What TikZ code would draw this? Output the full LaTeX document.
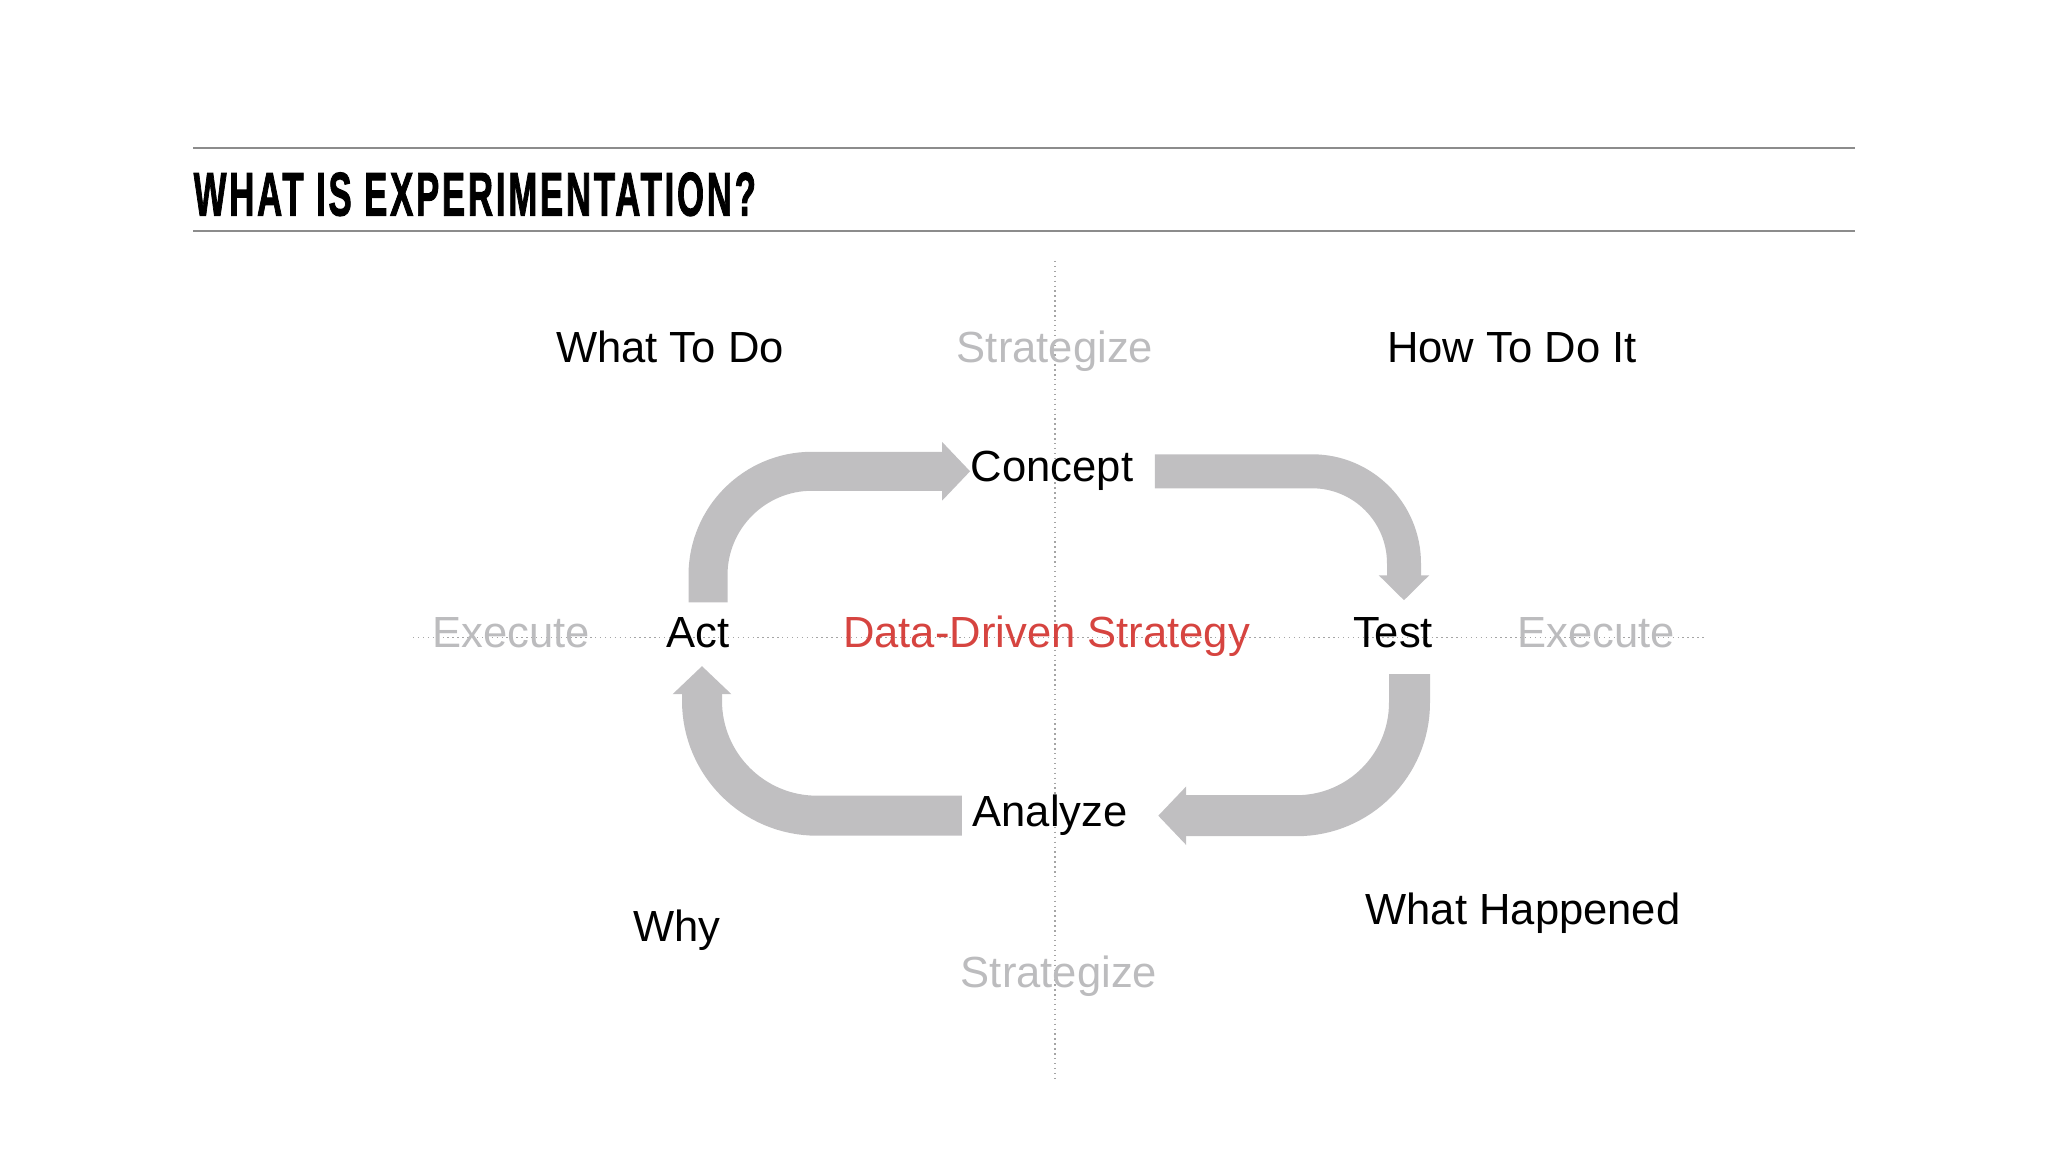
\documentclass[tikz,border=0pt]{standalone}
\usepackage{fontspec}
\setmainfont{Liberation Sans}
\newfontfamily\headfont[FakeBold=2, LetterSpace=8]{Liberation Sans}
\usepackage{xcolor}
\usepackage{tikz}
\usetikzlibrary{
    arrows.meta,
    calc
}
\definecolor{arrowgray}{RGB}{192,191,193}
\definecolor{fadegray}{RGB}{188,188,190}
\definecolor{ddsred}{RGB}{214,68,64}
\definecolor{rulegray}{RGB}{140,140,140}
\definecolor{axisgray}{RGB}{165,165,165}
\tikzset{
  word/.style = {
      anchor=base,
      inner sep=0pt,
      font=\fontsize{12.4}{14}\selectfont,
      text=black
  },
  faded/.style = {
      word,
      text=fadegray
  },
  hilite/.style = {
      word,
      text=ddsred
  },
  heading/.style = {
      anchor=base west,
      inner sep=0pt,
      font=\fontsize{17.5}{20}\selectfont\headfont\bfseries
  },
  rule/.style = {
      draw=rulegray,
      line width=0.6pt
  },
  axis/.style = {
      draw=axisgray,
      line width=0.4pt,
      densely dotted
  },
  flow/.style = {
      draw=arrowgray,
      line width=#1,
      -{Triangle[length=2.8mm, width=5.7mm]}
  }
}

\begin{document}
\begin{tikzpicture}
    \useasboundingbox (0,0) rectangle (20.48,11.5);
    % Heading
    \draw[rule] (1.93,10.02) -- (18.55,10.02);
    \draw[rule] (1.93,9.19) -- (18.55,9.19);
    \node[heading] (title) at (1.93,9.345) {\scalebox{0.565}[1]{WHAT IS EXPERIMENTATION?}};
    % Axes
    \draw[axis] (10.55,8.89) -- (10.55,0.71);
    \draw[axis] (4.13,5.125) -- (17.06,5.125);
    % Nodes
    \node[word] (act) at (6.98,5.02) {Act};
    \node[word] (concept) at (10.52,6.68) {Concept};
    \node[word] (test) at (13.93,5.02) {Test};
    \node[word] (analyze) at (10.50,3.23) {Analyze};
    \node[hilite] (dds) at (10.465,5.02) {Data-Driven Strategy};
    \node[faded] (exleft) at (5.115,5.02) {Execute};
    \node[faded] (exright) at (15.96,5.02) {Execute};
    \node[faded] (stratup) at (10.55,7.87) {Strategize};
    \node[faded] (stratdown) at (10.59,1.62) {Strategize};
    \node[word] (whatdo) at (6.70,7.87) {What To Do};
    \node[word] (howdo) at (15.12,7.87) {How To Do It};
    \node[word] (why) at (6.77,2.08) {Why};
    \node[word] (happened) at (15.23,2.25) {What Happened};
    % Edges
    \draw[flow=3.9mm, rounded corners=10.4mm, shorten <=1.5mm]
        ([xshift=1mm]act.north) |- (concept.west);
    \draw[flow=3.4mm, rounded corners=9.2mm, shorten >=1.7mm,
          -{Triangle[length=2.5mm, width=4.9mm]}]
        ([xshift=2.1mm]concept.east) -| ([xshift=1.1mm]test.north);
    \draw[flow=4.1mm, rounded corners=11.3mm, shorten <=2.5mm, shorten >=3mm]
        ([xshift=1.65mm]test.south) |- (analyze.east);
    \draw[flow=4mm, rounded corners=11.5mm, shorten <=1mm, shorten >=1.7mm]
        (analyze.west) -| ([xshift=.4mm]act.south);
\end{tikzpicture}
\end{document}
